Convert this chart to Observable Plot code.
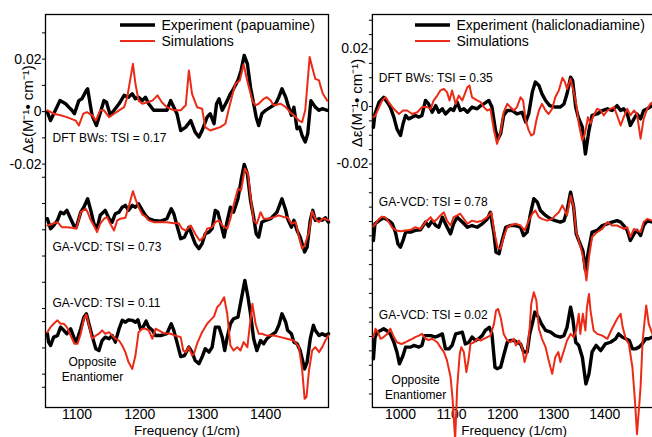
<!DOCTYPE html>
<html><head><meta charset="utf-8">
<script src="https://cdn.jsdelivr.net/npm/d3@7"></script>
<script src="https://cdn.jsdelivr.net/npm/@observablehq/plot@0.6"></script>
<style>
html,body{margin:0;padding:0;overflow:hidden;background:#fff;width:652px;height:437px}
#wrap{position:relative;width:652px;height:437px;overflow:hidden}
#left,#right{position:absolute;top:0;width:340px;height:437px}
#left{left:0}
#right{left:325px}
svg{font-family:"Liberation Sans",Arial,Helvetica,sans-serif;max-width:none !important}
</style></head>
<body><div id="wrap"><div id="left"></div><div id="right"></div></div>
<script>
// Values in units of 1e-3 M^-1 cm^-1, [frequency (1/cm), delta epsilon]
const papuamineExp1 = [[1053,-0.2],[1058,-3.4],[1073,4.2],[1082,3.0],[1087,1.7],[1092,0.5],[1096,-0.8],[1103,4.2],[1108,4.9],[1115,8.1],[1117,8.7],[1124,-1.4],[1131,-5.3],[1143,4.2],[1147,3.6],[1153,-1.4],[1159,0.5],[1167,3.0],[1175,6.2],[1182,5.5],[1188,6.8],[1193,4.9],[1198,5.5],[1204,4.2],[1209,5.5],[1214,3.0],[1222,0.5],[1233,0.5],[1243,0.5],[1249,4.2],[1254,1.7],[1259,-0.8],[1265,-7.2],[1273,-5.9],[1281,-3.4],[1288,-7.8],[1294,-9.7],[1299,-7.2],[1307,-2.1],[1312,-0.8],[1318,-4.6],[1322,3.0],[1326,4.9],[1331,0.5],[1339,4.2],[1344,6.8],[1349,8.7],[1356,11.9],[1361,15.7],[1366,21.4],[1371,18.2],[1376,9.3],[1381,3.0],[1385,-2.1],[1389,-5.3],[1394,-0.8],[1400,0.5],[1408,1.7],[1416,3.0],[1421,5.5],[1426,8.7],[1432,5.5],[1435,3.0],[1441,-1.4],[1445,1.7],[1450,-6.5],[1454,-5.9],[1458,-9.1],[1463,-11.6],[1467,-8.4],[1472,4.2],[1479,1.7],[1485,0.5],[1490,1.1],[1498,0.5]];
const papuamineDFT = [[1053,0.5],[1063,-0.8],[1074,-1.4],[1084,-2.1],[1098,-3.4],[1103,-5.3],[1110,-0.8],[1116,-0.2],[1124,-1.4],[1130,-3.4],[1137,0.5],[1143,0.5],[1151,-2.1],[1159,-0.8],[1167,0.5],[1175,1.7],[1180,5.5],[1189,18.2],[1193,10.6],[1198,4.2],[1204,3.0],[1212,3.6],[1220,4.2],[1228,6.2],[1235,3.6],[1243,1.7],[1254,0.5],[1265,0.5],[1273,2.4],[1278,15.7],[1283,6.8],[1291,1.7],[1299,1.1],[1304,-5.9],[1312,-7.2],[1320,-6.5],[1328,-5.9],[1336,-4.6],[1341,0.5],[1347,6.2],[1352,10.6],[1359,11.9],[1365,18.0],[1372,10.6],[1379,4.2],[1384,2.4],[1389,3.0],[1397,4.9],[1402,5.5],[1408,4.2],[1413,2.4],[1424,3.0],[1432,1.7],[1439,-0.2],[1445,-1.4],[1453,-3.4],[1458,-4.0],[1463,0.5],[1467,11.9],[1470,20.8],[1474,17.0],[1479,12.5],[1485,11.9],[1487,10.0],[1491,6.8],[1498,4.2]];
const papuamineExp2 = [[1053,1.7],[1058,-2.1],[1063,-0.9],[1069,1.1],[1074,4.2],[1079,3.6],[1084,4.9],[1090,1.7],[1095,-0.9],[1099,-1.5],[1106,4.2],[1111,6.1],[1117,9.3],[1122,4.9],[1127,-0.2],[1132,-2.1],[1137,3.0],[1145,4.9],[1151,1.7],[1156,0.4],[1161,3.6],[1167,4.2],[1172,6.1],[1177,6.8],[1182,4.9],[1188,6.8],[1193,6.1],[1198,7.4],[1204,4.9],[1209,3.0],[1214,1.7],[1222,1.1],[1233,0.8],[1243,1.7],[1250,5.5],[1254,3.6],[1259,-0.9],[1265,-5.9],[1271,-5.3],[1278,-1.5],[1282,-4.0],[1288,-7.8],[1294,-9.7],[1299,-7.8],[1304,-4.0],[1310,-3.4],[1315,-2.1],[1320,4.9],[1324,4.2],[1328,0.4],[1334,-5.3],[1338,-0.2],[1344,6.1],[1349,4.2],[1356,9.3],[1361,16.3],[1366,22.4],[1371,18.8],[1376,8.7],[1381,2.3],[1385,-4.0],[1389,-5.3],[1394,0.4],[1400,1.1],[1408,1.7],[1413,3.0],[1418,4.2],[1426,9.3],[1432,4.9],[1435,1.7],[1441,-1.5],[1445,1.1],[1450,-2.8],[1455,-5.3],[1462,-11.0],[1466,-9.1],[1471,1.1],[1475,4.9],[1479,1.1],[1485,1.7],[1490,1.1],[1495,2.1],[1500,0.4]];
const papuamineGA = [[1053,-0.9],[1061,-0.2],[1069,0.4],[1076,-1.5],[1084,-1.5],[1092,-1.7],[1099,-2.1],[1106,4.2],[1114,5.5],[1117,4.2],[1122,1.1],[1127,-0.9],[1132,-3.4],[1137,-0.2],[1143,1.7],[1148,2.3],[1153,-0.2],[1159,-2.8],[1164,1.1],[1169,1.7],[1177,2.1],[1182,6.1],[1189,12.2],[1193,9.3],[1198,6.1],[1204,3.3],[1209,2.6],[1214,1.1],[1222,0.4],[1233,0.4],[1243,0.4],[1254,0.0],[1262,0.0],[1267,-2.1],[1273,-2.8],[1281,-0.9],[1288,-4.0],[1295,-6.6],[1302,-5.3],[1307,-2.1],[1315,-1.5],[1320,0.4],[1326,1.1],[1331,-0.9],[1339,-2.1],[1344,1.7],[1349,6.8],[1356,13.1],[1361,12.5],[1367,20.8],[1372,18.8],[1376,9.9],[1381,1.1],[1386,-0.2],[1392,4.2],[1397,1.7],[1405,1.7],[1413,2.3],[1421,3.0],[1429,2.3],[1435,2.3],[1441,-0.2],[1448,0.4],[1453,-5.3],[1458,-9.7],[1462,-8.5],[1469,-3.4],[1474,4.6],[1479,1.7],[1485,0.4],[1490,1.7],[1495,1.7],[1500,1.1]];
const papuamineExp3 = [[1053,0.4],[1055,-2.8],[1058,-4.1],[1063,-0.9],[1069,-0.3],[1074,2.9],[1079,1.7],[1084,0.4],[1090,2.3],[1095,-0.9],[1099,-2.8],[1106,2.3],[1111,6.7],[1115,8.0],[1119,4.2],[1124,-0.3],[1130,-5.3],[1135,-6.0],[1140,-2.2],[1145,-0.9],[1151,-1.5],[1156,-0.3],[1161,-2.8],[1167,2.3],[1172,5.5],[1177,4.8],[1182,5.7],[1188,5.5],[1193,4.8],[1197,5.7],[1201,2.3],[1205,2.9],[1210,5.2],[1214,2.9],[1220,1.7],[1225,-0.3],[1233,-0.3],[1243,0.4],[1250,4.2],[1254,1.7],[1259,-2.8],[1265,-8.3],[1271,-7.9],[1278,-4.7],[1283,-6.6],[1288,-9.8],[1294,-11.0],[1299,-8.5],[1304,-5.3],[1310,-6.6],[1315,-4.7],[1320,2.9],[1326,2.9],[1331,-0.9],[1335,-6.0],[1339,-0.9],[1344,4.2],[1349,6.1],[1356,6.7],[1361,13.1],[1367,20.7],[1372,14.3],[1376,8.0],[1381,-1.5],[1386,-6.0],[1392,-2.2],[1397,-3.4],[1402,-1.5],[1408,-0.3],[1416,1.0],[1421,3.6],[1426,8.0],[1432,4.8],[1435,1.7],[1441,0.4],[1445,-2.8],[1450,-3.4],[1455,-6.0],[1462,-13.0],[1466,-10.4],[1471,-1.5],[1476,3.6],[1479,1.7],[1485,-0.3],[1490,0.4],[1495,-0.3],[1500,0.4]];
const papuamineGAopp = [[1053,1.0],[1058,2.9],[1063,4.2],[1069,5.5],[1074,4.2],[1079,4.2],[1084,2.9],[1090,-0.3],[1096,-3.4],[1101,-3.4],[1106,0.4],[1111,6.1],[1115,7.7],[1120,2.9],[1124,-1.5],[1130,-0.3],[1135,0.4],[1140,1.7],[1145,0.4],[1151,1.0],[1156,-0.3],[1161,-1.5],[1167,-2.2],[1172,-4.1],[1177,-6.6],[1182,-10.4],[1188,-13.0],[1193,-7.9],[1198,1.0],[1204,2.3],[1209,2.3],[1214,1.7],[1220,-1.5],[1225,2.3],[1230,1.7],[1238,0.6],[1249,0.4],[1256,-0.3],[1265,-0.9],[1269,-6.0],[1273,-6.6],[1278,-4.7],[1283,-7.9],[1286,-7.3],[1291,-3.4],[1299,1.0],[1307,4.2],[1312,5.5],[1318,7.0],[1323,10.5],[1328,11.8],[1334,14.3],[1339,8.0],[1344,-4.1],[1349,-6.0],[1355,-4.7],[1360,-6.0],[1365,-2.8],[1371,-4.7],[1374,1.7],[1379,11.8],[1384,4.2],[1389,0.4],[1394,0.4],[1402,-0.3],[1413,-0.3],[1424,-0.9],[1434,-1.5],[1445,-2.2],[1453,-4.7],[1458,-13.0],[1462,-24.4],[1465,-23.7],[1469,-13.6],[1474,-6.0],[1479,-4.7],[1485,-6.6],[1490,-4.7],[1495,-2.2],[1500,-0.3]];

const haliExp1 = [[947,-7.2],[950,-2.6],[958,1.5],[967,3.2],[974,1.5],[980,-0.2],[987,-3.7],[993,-7.8],[1000,-10.1],[1005,-6.0],[1010,-3.1],[1016,-4.3],[1023,-3.7],[1029,-3.1],[1036,-3.7],[1042,-3.1],[1049,2.1],[1055,0.9],[1062,-2.0],[1069,0.3],[1075,-2.0],[1082,-0.8],[1088,-2.6],[1098,-0.8],[1104,-1.4],[1111,1.5],[1117,-1.4],[1124,-0.8],[1131,-2.0],[1140,-0.2],[1150,-0.8],[1157,0.3],[1163,0.9],[1173,2.1],[1179,-0.2],[1186,-8.3],[1191,-11.2],[1196,-9.5],[1202,-3.1],[1209,-1.4],[1219,-1.4],[1228,-2.6],[1238,-2.0],[1245,-5.4],[1251,-2.6],[1258,5.0],[1264,8.5],[1271,7.3],[1277,4.4],[1284,2.1],[1292,0.3],[1303,-0.2],[1313,-0.2],[1320,0.9],[1326,4.4],[1333,10.2],[1337,9.0],[1343,-0.2],[1348,-3.7],[1356,-7.2],[1362,-16.5],[1369,-8.3],[1375,-3.1],[1385,-2.6],[1395,-1.4],[1405,-0.8],[1414,-1.4],[1424,0.3],[1431,-1.4],[1437,-0.8],[1444,-2.6],[1450,-6.6],[1457,-4.3],[1463,-2.6],[1470,-4.3],[1476,-1.4],[1483,-0.8],[1493,0.3]];
const haliDFT = [[947,-3.7],[951,-3.1],[958,-0.2],[964,2.1],[971,3.2],[977,1.5],[984,-0.2],[990,-1.4],[997,-2.6],[1005,-1.4],[1013,-1.4],[1023,-2.6],[1033,-2.0],[1042,-0.2],[1052,-0.2],[1059,-0.8],[1065,2.1],[1072,3.8],[1078,5.6],[1085,6.1],[1091,5.0],[1096,2.1],[1101,5.6],[1108,0.9],[1114,3.8],[1121,2.1],[1131,6.7],[1135,7.3],[1140,3.2],[1150,2.1],[1157,1.5],[1163,-0.2],[1170,-1.4],[1176,-0.8],[1183,-8.3],[1189,-13.0],[1196,-8.9],[1202,-2.0],[1209,0.9],[1215,-0.2],[1222,-1.4],[1228,-0.2],[1235,3.2],[1240,2.1],[1245,-4.8],[1251,-8.3],[1256,-10.1],[1261,-9.5],[1266,-4.8],[1271,-1.4],[1277,0.9],[1284,-1.4],[1290,-2.6],[1297,-0.8],[1303,3.2],[1310,5.6],[1317,10.0],[1322,8.5],[1326,6.1],[1333,9.6],[1337,6.7],[1344,0.9],[1349,-6.0],[1356,-11.8],[1361,-9.5],[1367,-3.7],[1372,-6.0],[1378,-3.1],[1385,-0.8],[1392,-1.4],[1398,-3.1],[1405,-1.4],[1411,-0.8],[1418,-0.2],[1424,-3.1],[1431,-6.6],[1437,-3.7],[1444,-0.8],[1450,-3.1],[1457,-1.4],[1463,-2.6],[1470,-11.2],[1476,-4.3],[1483,-0.8],[1489,0.9],[1494,1.5]];
const haliExp2 = [[947,-6.6],[950,-0.8],[958,0.3],[967,1.3],[977,0.3],[984,-0.8],[990,-3.7],[995,-7.8],[1000,-8.9],[1005,-6.6],[1010,-3.7],[1020,-3.7],[1029,-3.1],[1039,-2.9],[1049,-0.2],[1055,-1.7],[1062,0.3],[1069,-1.4],[1075,-2.0],[1082,1.5],[1088,-0.8],[1098,-4.3],[1104,-0.8],[1111,1.5],[1121,-0.2],[1131,-2.0],[1140,-1.4],[1150,-2.0],[1160,-0.8],[1170,0.9],[1176,3.2],[1183,-4.3],[1187,-10.7],[1193,-11.2],[1199,-6.6],[1206,-2.0],[1215,-1.4],[1225,-1.4],[1235,-2.0],[1241,-4.9],[1248,-3.7],[1255,3.2],[1261,7.9],[1268,6.7],[1274,3.8],[1284,2.1],[1294,0.9],[1303,0.3],[1313,-0.2],[1320,0.3],[1326,3.8],[1333,10.2],[1339,5.0],[1344,-4.3],[1349,-6.6],[1357,-10.1],[1362,-17.0],[1367,-11.2],[1375,-3.7],[1385,-3.1],[1395,-1.4],[1405,-0.8],[1414,-0.2],[1424,0.3],[1431,-0.2],[1437,-1.4],[1444,-3.1],[1450,-6.6],[1457,-4.3],[1463,-3.1],[1470,-4.9],[1476,-1.4],[1483,0.3],[1493,-0.2]];
const haliGA = [[947,-1.7],[951,-0.8],[958,0.9],[964,1.7],[971,1.3],[977,-0.2],[984,-2.2],[992,-3.1],[1000,-3.4],[1010,-3.1],[1020,-2.9],[1029,-2.0],[1039,-2.6],[1049,-0.2],[1059,1.5],[1065,-0.2],[1072,0.9],[1078,2.1],[1085,3.2],[1091,0.3],[1098,-1.4],[1104,1.5],[1111,2.1],[1117,2.7],[1124,0.9],[1131,-0.8],[1140,0.3],[1150,-0.2],[1160,0.3],[1170,1.5],[1178,3.2],[1183,-3.1],[1190,-9.0],[1196,-9.5],[1202,-5.4],[1209,-2.0],[1215,-1.4],[1225,-0.8],[1235,-1.4],[1243,-3.1],[1251,0.3],[1258,2.7],[1264,3.8],[1271,1.5],[1277,0.9],[1287,0.3],[1297,0.9],[1303,2.1],[1310,3.2],[1317,5.6],[1322,3.8],[1326,2.1],[1333,9.0],[1339,5.0],[1344,-3.7],[1349,-6.6],[1357,-11.8],[1364,-20.5],[1369,-12.4],[1375,-5.4],[1385,-3.7],[1395,-2.6],[1405,-0.2],[1414,-1.4],[1424,-1.4],[1431,-2.0],[1437,-2.6],[1444,-2.0],[1450,-5.4],[1457,-2.6],[1463,-3.1],[1470,-3.7],[1476,-0.2],[1483,0.9],[1493,0.3]];
const haliExp3 = [[947,-7.8],[950,-0.5],[954,1.5],[961,2.1],[967,2.7],[974,1.9],[980,0.9],[987,-2.0],[993,-5.4],[998,-9.5],[1005,-6.6],[1010,-3.7],[1020,-3.7],[1026,-3.1],[1036,-3.7],[1042,-3.1],[1047,0.3],[1052,0.3],[1059,0.3],[1069,-0.2],[1075,0.3],[1082,0.9],[1088,-4.3],[1095,-4.3],[1101,-3.1],[1108,0.9],[1114,1.2],[1121,1.5],[1127,-2.6],[1134,-2.0],[1140,-0.2],[1147,-1.4],[1153,-0.8],[1160,0.3],[1166,2.1],[1174,3.2],[1179,0.9],[1185,-10.7],[1189,-11.2],[1196,-10.7],[1202,-6.6],[1209,-2.0],[1215,-1.4],[1222,-1.4],[1228,-2.0],[1235,-2.6],[1241,-5.4],[1248,-5.4],[1253,0.9],[1258,4.4],[1263,8.5],[1270,6.7],[1276,4.4],[1284,2.1],[1294,1.5],[1303,0.3],[1313,-0.2],[1320,0.3],[1326,3.2],[1333,10.2],[1337,6.7],[1343,-2.0],[1349,-3.1],[1356,-7.2],[1363,-16.5],[1369,-13.0],[1375,-5.4],[1383,-3.1],[1392,-4.9],[1401,-2.6],[1411,-2.0],[1421,-0.8],[1427,0.9],[1434,-0.2],[1441,-0.8],[1448,-1.4],[1454,-4.3],[1460,-4.3],[1467,-3.7],[1473,-2.6],[1480,-0.8],[1486,-0.8],[1493,-0.2]];
const haliGAopp = [[947,-0.2],[951,2.7],[956,1.5],[961,-0.8],[967,-0.2],[974,0.9],[980,2.7],[987,-0.2],[993,-2.0],[1002,-2.6],[1010,-2.0],[1016,-1.4],[1023,-0.8],[1029,-0.2],[1036,0.3],[1042,0.9],[1049,-0.8],[1055,-1.2],[1062,-0.8],[1072,-2.0],[1078,-3.7],[1085,-5.4],[1091,-8.3],[1098,-14.1],[1102,-21.7],[1107,-36.0],[1111,-17.6],[1116,-6.0],[1119,-3.7],[1124,-5.4],[1129,-12.4],[1133,-8.3],[1137,-2.6],[1144,-2.0],[1150,-0.8],[1157,-1.4],[1163,-0.8],[1170,-0.2],[1176,0.3],[1183,4.4],[1187,9.0],[1191,9.6],[1196,6.7],[1202,0.9],[1209,-1.4],[1215,-2.0],[1222,-0.8],[1226,-3.1],[1232,-1.4],[1238,-3.7],[1243,-8.9],[1248,-5.4],[1253,3.2],[1256,11.4],[1261,15.4],[1266,12.5],[1271,2.7],[1277,-0.8],[1284,-3.7],[1290,-8.3],[1297,-13.0],[1303,-7.2],[1309,-5.4],[1313,-8.9],[1320,-4.9],[1326,-1.4],[1333,0.9],[1339,-0.2],[1344,2.1],[1349,7.9],[1352,0.9],[1357,7.9],[1362,2.1],[1365,10.2],[1369,14.8],[1372,9.0],[1378,2.1],[1385,0.9],[1395,0.3],[1405,-0.8],[1414,2.7],[1424,6.1],[1431,7.9],[1435,3.2],[1441,-0.8],[1447,-2.6],[1454,-10.7],[1459,-22.3],[1463,-34.0],[1470,-17.6],[1474,-1.4],[1481,10.8],[1486,4.4],[1493,0.9]];

const leftYTicks = [0.03,0.02,0.01,0,-0.01,-0.02,-0.025,-0.035,-0.045,-0.055,-0.065,-0.075,-0.08,-0.09,-0.1,-0.105];
const rightYTicks = d3.range(-20, 7).map(k => k * 0.005);
const leftXTicks = [1100, 1200, 1300, 1400];
const rightXTicks = [1000, 1100, 1200, 1300, 1400];
const leftOffsets = [0, -0.0425, -0.085];
const rightOffsets = [0, -0.040, -0.080];
const leftLabels = ["DFT BWs: TSI = 0.17", "GA-VCD: TSI = 0.73", "GA-VCD: TSI = 0.11"];
const rightLabels = ["DFT BWs: TSI = 0.35", "GA-VCD: TSI = 0.78", "GA-VCD: TSI = 0.02"];
const legendLeft = ["Experiment (papuamine)", "Simulations"];
const legendRight = ["Experiment (haliclonadiamine)", "Simulations"];

const RED = "#ec2b16";
const FONT = "'Liberation Sans', Arial, Helvetica, sans-serif";

function rows(arr, off) { return arr.map(([f, v]) => ({f, v: v / 1000 + off})); }
function yFmt(d) {
  if (Math.abs(d - 0.02) < 1e-9) return "0.02";
  if (Math.abs(d) < 1e-9) return "0";
  if (Math.abs(d + 0.02) < 1e-9) return "-0.02";
  return "";
}

function panel(cfg) {
  const marks = [Plot.frame({stroke: "#000", strokeWidth: 1.3})];
  cfg.exps.forEach((e, i) => {
    marks.push(Plot.line(rows(e, cfg.offsets[i]), {x: "f", y: "v", stroke: "#000", strokeWidth: 3.4}));
    marks.push(Plot.line(rows(cfg.sims[i], cfg.offsets[i]), {x: "f", y: "v", stroke: RED, strokeWidth: 2}));
  });
  cfg.labels.forEach((t, i) => {
    marks.push(Plot.text([t], {text: d => d, frameAnchor: "top-left", dx: cfg.labelDx, dy: cfg.labelDy[i], textAnchor: "start", lineAnchor: "bottom", fontSize: 12, fill: "#000"}));
  });
  marks.push(Plot.text(["Opposite"], {text: d => d, frameAnchor: "top-left", dx: cfg.oppDx, dy: cfg.oppDy, textAnchor: "middle", lineAnchor: "bottom", fontSize: 12}));
  marks.push(Plot.text(["Enantiomer"], {text: d => d, frameAnchor: "top-left", dx: cfg.oppDx, dy: cfg.oppDy + 15, textAnchor: "middle", lineAnchor: "bottom", fontSize: 12}));
  marks.push(Plot.text(["Frequency (1/cm)"], {text: d => d, frameAnchor: "bottom", dy: 27, lineAnchor: "bottom", fontSize: 13.5}));
  marks.push(Plot.text(["Δε(M⁻¹• cm⁻¹)"], {text: d => d, frameAnchor: "left", rotate: -90, dx: cfg.ylabDx, dy: cfg.ylabDy, textAnchor: "middle", lineAnchor: "middle", fontSize: 15}));
  const svg = Plot.plot({
    width: 340, height: 437,
    marginLeft: cfg.ml, marginRight: cfg.mr, marginTop: 14, marginBottom: 30,
    style: {fontFamily: FONT, fontSize: "14px", color: "#000", background: "transparent", overflow: "hidden", maxWidth: "none"},
    x: {domain: cfg.xdom, ticks: cfg.xticks, tickSize: 0, tickPadding: 1.5, label: null, tickFormat: d => String(d)},
    y: {domain: cfg.ydom, ticks: cfg.yticks, tickSize: 3, tickPadding: 1, label: null, tickFormat: yFmt},
    marks
  });
  // legend
  const g = d3.select(svg).append("g").attr("font-family", FONT).attr("font-size", 14).attr("text-anchor", "start");
  g.append("line").attr("x1", cfg.legX).attr("x2", cfg.legX + 35).attr("y1", 25).attr("y2", 25).attr("stroke", "#000").attr("stroke-width", 3.4);
  g.append("line").attr("x1", cfg.legX).attr("x2", cfg.legX + 35).attr("y1", 41).attr("y2", 41).attr("stroke", RED).attr("stroke-width", 2);
  g.append("text").attr("x", cfg.legX + 41.5).attr("y", 29.5).attr("text-anchor", "start").attr("fill", "#000").text(cfg.legend[0]);
  g.append("text").attr("x", cfg.legX + 41.5).attr("y", 45.7).attr("text-anchor", "start").attr("fill", "#000").text(cfg.legend[1]);
  return svg;
}

document.getElementById("left").append(panel({
  exps: [papuamineExp1, papuamineExp2, papuamineExp3],
  sims: [papuamineDFT, papuamineGA, papuamineGAopp],
  offsets: leftOffsets, labels: leftLabels, legend: legendLeft,
  ml: 45, mr: 12, xdom: [1050, 1500], ydom: [-0.1127, 0.037], xticks: leftXTicks, yticks: leftYTicks,
  labelDx: 7, labelDy: [127, 236, 292.7], oppDx: 47, oppDy: 351,
  ylabDx: -17.5, ylabDy: -101.5, legX: 120
}));
document.getElementById("right").append(panel({
  exps: [haliExp1, haliExp2, haliExp3],
  sims: [haliDFT, haliGA, haliGAopp],
  offsets: rightOffsets, labels: rightLabels, legend: legendRight,
  ml: 46.9, mr: 9.6, xdom: [945, 1500], ydom: [-0.1047, 0.032], xticks: rightXTicks, yticks: rightYTicks,
  labelDx: 6.4, labelDy: [67.7, 191, 304.3], oppDx: 43.2, oppDy: 369.3,
  ylabDx: -15.2, ylabDy: -108, legX: 90
}));
</script>
</body></html>
